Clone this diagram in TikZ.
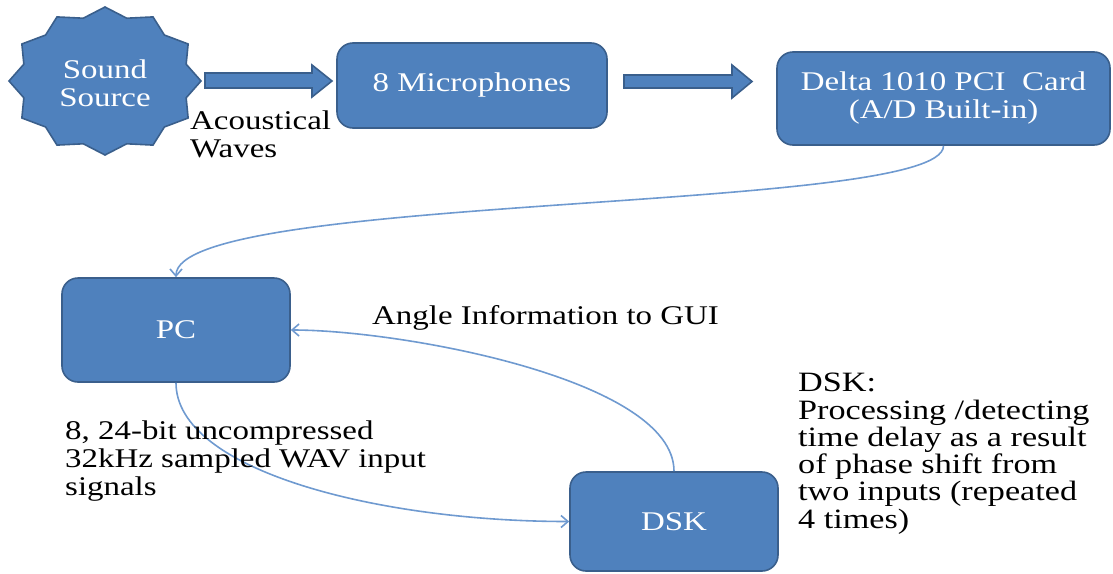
\documentclass[tikz,border=0pt]{standalone}
\usepackage{fontspec}
\setmainfont[FakeStretch=1.22]{Liberation Serif}
\usetikzlibrary{arrows.meta}
\definecolor{boxfill}{HTML}{4F81BD}
\definecolor{boxline}{HTML}{3A5F8C}
\definecolor{conncol}{HTML}{6F9AD0}
\begin{document}
\begin{tikzpicture}[x=1pt,y=-1pt,
  box/.style={draw=boxline, line width=1.6pt, fill=boxfill, rounded corners=16pt,
    text=white, font=\fontsize{27}{28}\selectfont, align=center, inner sep=0pt},
  shapefill/.style={draw=boxline, line width=1.6pt, fill=boxfill},
  lab/.style={font=\fontsize{27}{28}\selectfont, align=left, inner sep=0pt, anchor=north west},
  conn/.style={draw=conncol, line width=1.6pt, -{Straight Barb[length=7pt,width=12pt]}}]
\useasboundingbox (0,0) rectangle (1113,573);
% star
\draw[shapefill] ({105+96*cos(90)},{81-74*sin(90)})
  \foreach \k in {1,...,23} { -- ({105+(mod(\k,2)==0 ? 96 : 84)*cos(90+15*\k)},{81-(mod(\k,2)==0 ? 74 : 65)*sin(90+15*\k)}) } -- cycle;
\node[text=white, font=\fontsize{27}{28}\selectfont, align=center, inner sep=0pt] (src) at (105,83) {Sound\\Source};
% block arrows
\draw[shapefill] (205,73) -- (312,73) -- (312,65) -- (332,81) -- (312,97) -- (312,88) -- (205,88) -- cycle;
\draw[shapefill] (624,75) -- (732,75) -- (732,65) -- (752,81.5) -- (732,98) -- (732,88) -- (624,88) -- cycle;
% boxes
\node[box, minimum width=270pt, minimum height=85pt] (mic) at (472,85.5) {8 Microphones};
\node[box, minimum width=333pt, minimum height=93pt] (delta) at (943.5,98.5) {Delta 1010 PCI\ \ Card\\(A/D Built-in)};
\node[box, minimum width=228pt, minimum height=104pt] (pc) at (176,330) {PC};
\node[box, minimum width=208pt, minimum height=99pt] (dsk) at (674,521.5) {DSK};
% connectors
\draw[conn] (delta.south) .. controls +(0,68) and +(0,-85) .. (pc.north);
\draw[conn] (dsk.north) .. controls +(0,-92) and +(110,0) .. (pc.east);
\draw[conn] (pc.south) .. controls +(0,88) and +(-190,0) .. (dsk.west);
% labels
\node[lab] (aw) at (190,111) {Acoustical\\Waves};
\node[lab] (angle) at (372,305) {Angle Information to GUI};
\node[lab] (bits) at (65,421) {8, 24-bit uncompressed\\32kHz sampled WAV input\\signals};
\node[lab, font=\fontsize{28}{27.3}\selectfont] (dsktxt) at (798,373) {DSK:\\Processing /detecting\\time delay as a result\\of phase shift from\\two inputs (repeated\\4 times)};
\end{tikzpicture}
\end{document}
